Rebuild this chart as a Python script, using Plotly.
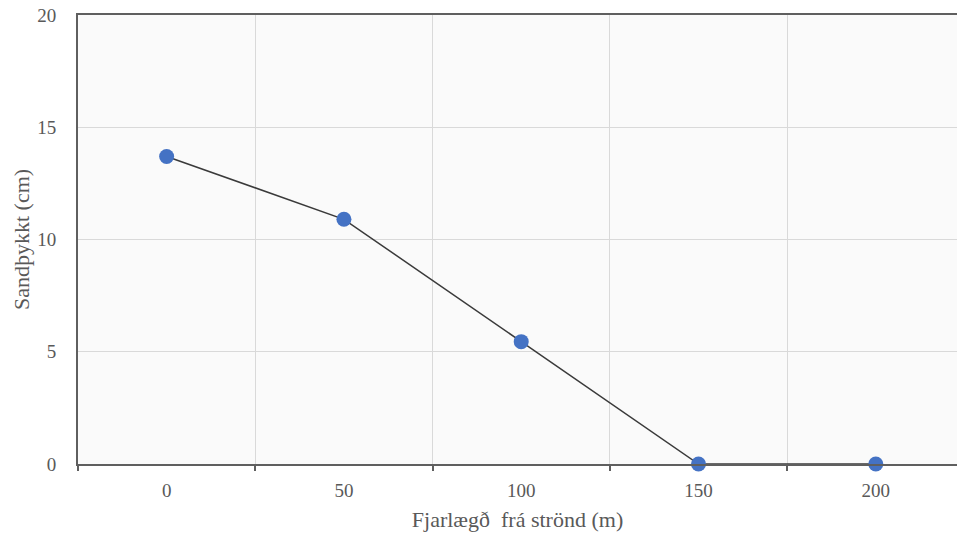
import plotly.graph_objects as go

categories = ["0", "50", "100", "150", "200"]
thickness = [13.7, 10.9, 5.45, 0, 0]
y_ticks = [0, 5, 10, 15, 20]

fig = go.Figure()
fig.add_trace(go.Scatter(
    x=categories, y=thickness, mode="lines+markers",
    line=dict(color="#3a3a3a", width=1.5),
    marker=dict(color="#4472C4", size=15),
    cliponaxis=False, showlegend=False,
))

font_family = "Liberation Serif, Times New Roman, serif"
fig.update_layout(
    width=957, height=538,
    margin=dict(l=78, r=0, t=15, b=74, autoexpand=False),
    paper_bgcolor="white", plot_bgcolor="#fafafa",
    font=dict(family=font_family, color="#595959", size=18),
)
fig.update_xaxes(
    type="category", tickson="boundaries",
    range=[-0.5, 4.458],
    showline=True, linecolor="#5f5f5f", linewidth=2, mirror=True,
    ticks="outside", ticklen=5, tickwidth=2, tickcolor="#5f5f5f",
    showgrid=True, gridcolor="#d9d9d9", gridwidth=1,
    ticklabelstandoff=8,
    tickfont=dict(size=19, color="#595959"),
    title=dict(text="Fjarlægð  frá strönd (m)", font=dict(size=22, color="#595959"), standoff=12),
)
fig.update_yaxes(
    range=[0, 20], tickvals=y_ticks,
    showline=True, linecolor="#5f5f5f", linewidth=2,
    showgrid=True, gridcolor="#d9d9d9", gridwidth=1,
    zeroline=False, ticks="", ticklabelstandoff=16,
    ticklabeloverflow="allow",
    tickfont=dict(size=19, color="#595959"),
    title=dict(text="Sandþykkt (cm)", font=dict(size=22, color="#595959"), standoff=2),
)
fig.write_html(
    "out.html",
    config={"displayModeBar": False},
    post_script="document.body.style.margin='0';document.body.style.overflow='hidden';",
)
